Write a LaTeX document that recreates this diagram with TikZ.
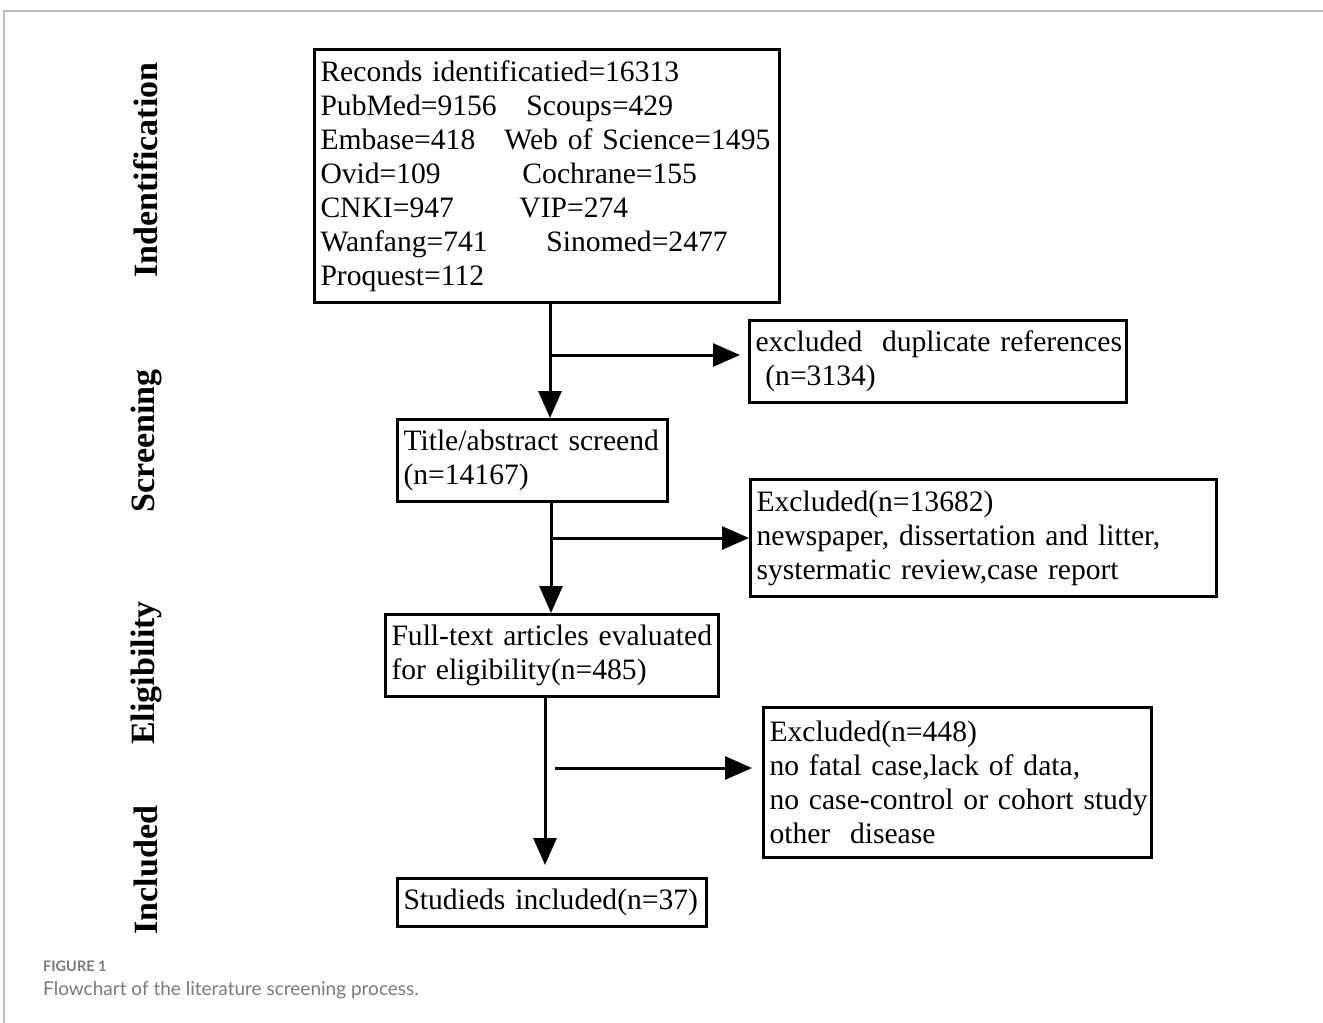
\documentclass[tikz,border=0pt]{standalone}
\usepackage{fontspec}
\setmainfont{Liberation Serif}
\newfontfamily\captionfont{Lato}
\usetikzlibrary{arrows.meta,positioning}
\definecolor{FrameGray}{HTML}{BEBEBE}
\definecolor{CaptionGray}{HTML}{7A7A7A}
\newcommand{\srcpair}[3]{\makebox[#1][l]{#2}#3}

\begin{document}
\begin{tikzpicture}[x=1pt,y=-1pt,
  flowbox/.style={draw,line width=3pt,anchor=north west,inner xsep=6pt,inner ysep=0pt,
    align=left,font=\fontsize{29.6}{34}\selectfont},
  flowarrow/.style={line width=3pt,-{Triangle[length=27pt,width=23pt]}},
  stagelabel/.style={rotate=90,font=\bfseries\fontsize{34}{40}\selectfont}]
        \useasboundingbox (0,0) rectangle (1323,1023);
        \draw[FrameGray,line width=1.5pt] (1323,11) -- (4,11) -- (4,1023);

        \node[stagelabel] (ident) at (146,170) {Indentification};
        \node[stagelabel] (scr) at (146,441) {Screening};
        \node[stagelabel] (elig) at (146,673) {Eligibility};
        \node[stagelabel] (inc) at (146,870) {Included};

        \node[flowbox,text width=453pt,minimum height=253pt] (rec) at (313,48)
          {Reconds identificatied=16313\\
           \srcpair{206pt}{PubMed=9156}{Scoups=429}\\
           \srcpair{184pt}{Embase=418}{Web of Science=1495}\\
           \srcpair{202pt}{Ovid=109}{Cochrane=155}\\
           \srcpair{199pt}{CNKI=947}{VIP=274}\\
           \srcpair{226pt}{Wanfang=741}{Sinomed=2477}\\
           Proquest=112};
        \node[flowbox,text width=365pt,minimum height=82pt] (dup) at (748,319)
          {\mbox{excluded\ \ duplicate references}\\\mbox{\ (n=3134)}};
        \node[flowbox,text width=258pt,minimum height=82pt] (screen) at (396,418)
          {\mbox{Title/abstract screend}\\(n=14167)};
        \node[flowbox,text width=454pt,minimum height=117pt] (exc1) at (749,478)
          {Excluded(n=13682)\\\mbox{newspaper, dissertation and litter,}\\
           \mbox{systermatic review,case report}};
        \node[flowbox,text width=321pt,minimum height=82pt] (full) at (384,613)
          {\mbox{Full-text articles evaluated}\\\mbox{for eligibility(n=485)}};
        \node[flowbox,text width=376pt,minimum height=150pt] (exc2) at (762,706)
          {Excluded(n=448)\\\mbox{no fatal case,lack of data,}\\
           \mbox{no case-control or cohort study}\\\mbox{other\ \ disease}};
        \node[flowbox,text width=297pt,minimum height=48pt] (incl) at (396,877)
          {\mbox{Studieds included(n=37)}};

        \coordinate (b1) at (550,355);
        \coordinate (b2) at (551,538);
        \coordinate (b3) at (545,768);
        \draw[flowarrow] (rec.south -| b1) -- (screen.north -| b1);
        \draw[flowarrow,shorten >=8pt] (b1) -- (dup.west |- b1);
        \draw[flowarrow] (screen.south -| b2) -- (full.north -| b2);
        \draw[flowarrow] (b2) -- (exc1.west |- b2);
        \draw[flowarrow,shorten >=12pt] (full.south -| b3) -- (incl.north -| b3);
        \draw[flowarrow,shorten <=10pt,shorten >=10pt] (b3) -- (exc2.west |- b3);

        \node[anchor=base west,inner sep=0pt,text=CaptionGray,
          font=\captionfont\bfseries\fontsize{14.5}{17}\selectfont]
          (fignum) at (43,971) {FIGURE 1};
        \node[anchor=base west,inner sep=0pt,text=CaptionGray,
          font=\captionfont\fontsize{19}{23}\selectfont]
          (figcap) at (43,995) {Flowchart of the literature screening process.};
      \end{tikzpicture}
\end{document}
